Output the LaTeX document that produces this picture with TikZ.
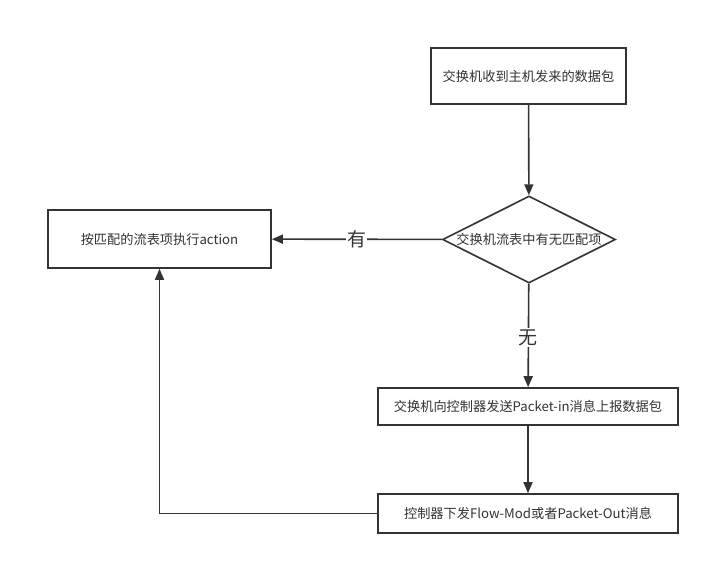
\documentclass[tikz,border=0pt]{standalone}
\usepackage{fontspec}
\setmainfont{Noto Sans CJK SC}
\usetikzlibrary{shapes.geometric,arrows.meta}
\definecolor{ln}{HTML}{333333}
\begin{document}
\begin{tikzpicture}[x=1pt,y=-1pt,
  box/.style={draw=ln,line width=1.6pt,minimum width=#1,inner sep=0pt,font=\fontsize{13.2}{15}\selectfont,text=ln},
  arr/.style={draw=ln,line width=1.6pt,-{Triangle[length=11pt,width=9pt]}},
  lab/.style={fill=white,inner sep=1pt,font=\fontsize{19}{21}\selectfont,text=ln}]
\useasboundingbox[fill=white] (0,0) rectangle (711,565);
\node[box=195pt,minimum height=56pt] (a) at (528.5,76) {交换机收到主机发来的数据包};
\node[draw=ln,line width=1.6pt,diamond,aspect=2,inner sep=0pt,minimum width=173pt,minimum height=87pt,font=\fontsize{13.2}{15}\selectfont,text=ln] (d) at (529,239.5) {交换机流表中有无匹配项};
\node[box=223pt,minimum height=58pt] (b) at (159.5,239) {按匹配的流表项执行action};
\node[box=300pt,minimum height=37pt] (c) at (528,406.5) {交换机向控制器发送Packet-in消息上报数据包};
\node[box=300pt,minimum height=39pt] (e) at (528,513.5) {控制器下发Flow-Mod或者Packet-Out消息};
\draw[arr] (a) -- (d);
\draw[arr] (d) -- node[lab] {有} (b);
\draw[arr] (d) -- node[lab,pos=0.52] {无} (c);
\draw[arr] (c) -- (e);
\coordinate (k) at (159.5,513.5);
\draw[arr] (e.west) -- (k) -- (b.south);
\end{tikzpicture}
\end{document}
